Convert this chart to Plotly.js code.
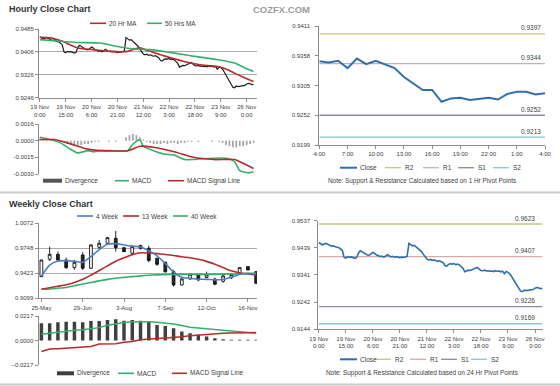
<!DOCTYPE html>
<html><head><meta charset="utf-8">
<script src="https://cdn.plot.ly/plotly-3.0.1.min.js"></script>
<style>html,body{margin:0;padding:0;background:#fff;overflow:hidden}#chart{width:560px;height:386px}</style>
</head><body><div id="chart"></div>
<script>
// ---------------- DATA ----------------
const hourTickLabels = ["19 Nov<br>0:00","19 Nov<br>15:00","20 Nov<br>6:00","20 Nov<br>21:00","21 Nov<br>12:00","22 Nov<br>3:00","22 Nov<br>18:00","23 Nov<br>9:00","26 Nov<br>0:00"];
const hourlyClose = [
0.9458,0.9452,0.9449,0.9453,0.9455,0.9452,0.9448,0.9445,0.9446,0.9443,
0.9441,0.9440,0.9436,0.9430,0.9405,0.9402,0.9407,0.9405,0.9406,0.9403,
0.9401,0.9404,0.9420,0.9428,0.9424,0.9421,0.9418,0.9413,0.9412,0.9418,
0.9422,0.9419,0.9413,0.9411,0.9407,0.9409,0.9405,0.9408,0.9414,0.9410,
0.9406,0.9408,0.9405,0.9407,0.9404,0.9403,0.9405,0.9404,0.9406,0.9408,
0.9455,0.9450,0.9446,0.9448,0.9443,0.9437,0.9431,0.9425,0.9415,0.9405,
0.9398,0.9395,0.9397,0.9393,0.9395,0.9392,0.9390,0.9392,0.9389,0.9385,
0.9375,0.9373,0.9379,0.9381,0.9380,0.9382,0.9378,0.9380,0.9377,0.9372,
0.9365,0.9352,0.9355,0.9358,0.9357,0.9360,0.9362,0.9365,0.9368,0.9362,
0.9357,0.9356,0.9358,0.9355,0.9356,0.9354,0.9355,0.9353,0.9356,0.9354,
0.9355,0.9352,0.9354,0.9345,0.9353,0.9350,0.9345,0.9335,0.9325,0.9315,
0.9305,0.9295,0.9282,0.9280,0.9286,0.9284,0.9285,0.9287,0.9286,0.9288,
0.9293,0.9295,0.9294,0.9291,0.9292];
const ma20Hour = [0,6,13,22,31,41,51,55,58,64,70,78,86,93,103,109,113,118,124];
const ma20 = [0.9456,0.9454,0.9442,0.9419,0.9413,0.9407,0.9407,0.9415,0.9419,0.9407,0.9395,0.9381,0.9368,0.9360,0.9354,0.9343,0.9331,0.9317,0.9302];
const ma50Hour = [0,12,22,35,45,55,64,74,84,93,103,113,119,124];
const ma50 = [0.9448,0.9442,0.9438,0.9436,0.9424,0.9415,0.9413,0.9405,0.9395,0.9387,0.9378,0.9366,0.9349,0.9337];
const macdHour = [0,6,12,16,22,28,31,35,41,51,54,58,60,66,72,78,84,89,97,109,113,116,121,124];
const macdH = [0.0003,0.0001,-0.0002,-0.0006,-0.0011,-0.0009,-0.0010,-0.0009,-0.0009,-0.0009,-0.0003,0.0001,-0.0005,-0.0009,-0.0012,-0.0013,-0.0017,-0.0017,-0.0016,-0.0016,-0.0019,-0.0027,-0.0029,-0.0028];
const signalHour = [0,8,16,26,35,51,58,66,78,89,101,113,116,124];
const signalH = [0.0001,0.0001,-0.0002,-0.0007,-0.0009,-0.0009,-0.0005,-0.0006,-0.0010,-0.0015,-0.0017,-0.0017,-0.0019,-0.0025];
// divergence read every second hour
const divH = [0.0002,0.0002,0.0001,0.0001,0.0000,-0.0001,-0.0001,-0.0002,-0.0003,-0.0004,
-0.0005,-0.0004,-0.0004,-0.0003,-0.0003,-0.0002,-0.0001,-0.0001,0.0000,0.0000,
-0.0001,0.0000,-0.0001,0.0000,0.0000,0.0003,0.0005,0.0006,0.0005,0.0003,
0.0001,-0.0001,-0.0002,-0.0003,-0.0003,-0.0003,-0.0002,-0.0003,-0.0002,-0.0002,
-0.0003,-0.0002,-0.0002,-0.0001,-0.0001,0.0000,-0.0001,0.0000,0.0000,0.0000,
-0.0001,0.0000,-0.0001,-0.0002,-0.0004,-0.0005,-0.0006,-0.0006,-0.0005,-0.0005,
-0.0004,-0.0003,-0.0002];
const macdHTicks = [-0.0030,-0.0015,0.0000,0.0015];
const macdHTickText = ["-0.0030","-0.0015","0.0000","0.0016"];

// 1 Hr pivot chart
const pivotHourTicks = ["4:00","7:00","10:00","13:00","16:00","19:00","22:00","1:00","4:00"];
const pivotClose = [0.9348,0.9346,0.9349,0.9336,0.9353,0.9343,0.9349,0.9343,0.9336,0.9320,
0.9309,0.9297,0.9297,0.9276,0.9282,0.9283,0.9279,0.9281,0.9283,0.9280,
0.9290,0.9294,0.9294,0.9289,0.9291];
const pivotNames = ["R2","R1","S1","S2"];
const pivot1Levels = [0.9397,0.9344,0.9252,0.9213];
const pivot1Ticks = [0.9199,0.9252,0.9305,0.9358,0.9411];

// 24 Hr pivot chart (line positions as drawn, label texts as printed)
const pivot24Levels = [0.9525,0.9407,0.9226,0.9164];
const pivot24Labels = ["0.9623","0.9407","0.9226","0.9169"];
const pivot24Ticks = [0.9144,0.9242,0.9341,0.9439,0.9537];

// Weekly
const weekTickLabels = ["25-May","29-Jun","3-Aug","7-Sep","12-Oct","16-Nov"];
const wOpen  = [0.9380,0.9605,0.9670,0.9596,0.9497,0.9661,0.9489,0.9761,0.9813,0.9877,0.9756,0.9683,0.9782,0.9748,0.9618,0.9566,0.9445,0.9272,0.9350,0.9402,0.9367,0.9350,0.9320,0.9365,0.9423,0.9510,0.9445];
const wHigh  = [0.9600,0.9769,0.9704,0.9627,0.9596,0.9696,0.9800,0.9856,0.9890,0.9973,0.9760,0.9791,0.9795,0.9782,0.9625,0.9575,0.9467,0.9360,0.9420,0.9415,0.9445,0.9365,0.9400,0.9420,0.9500,0.9515,0.9450];
const wLow   = [0.9375,0.9583,0.9575,0.9480,0.9470,0.9467,0.9480,0.9739,0.9791,0.9704,0.9700,0.9661,0.9730,0.9566,0.9520,0.9430,0.9250,0.9265,0.9340,0.9320,0.9360,0.9270,0.9300,0.9350,0.9420,0.9460,0.9285];
const wClose = [0.9596,0.9670,0.9596,0.9497,0.9566,0.9489,0.9791,0.9813,0.9886,0.9756,0.9704,0.9769,0.9748,0.9590,0.9540,0.9445,0.9272,0.9350,0.9410,0.9337,0.9402,0.9281,0.9390,0.9405,0.9497,0.9467,0.9294];
const ma4w  = [0.9389,0.9530,0.9582,0.9588,0.9580,0.9565,0.9640,0.9730,0.9800,0.9808,0.9790,0.9775,0.9765,0.9715,0.9650,0.9550,0.9440,0.9372,0.9358,0.9346,0.9345,0.9338,0.9346,0.9372,0.9410,0.9423,0.9415];
const ma13w = [0.9216,0.9235,0.9255,0.9275,0.9305,0.9345,0.9400,0.9460,0.9520,0.9580,0.9625,0.9665,0.9690,0.9686,0.9678,0.9668,0.9655,0.9638,0.9625,0.9605,0.9578,0.9540,0.9498,0.9455,0.9430,0.9415,0.9402];
const ma40w = [0.9216,0.9220,0.9230,0.9240,0.9262,0.9285,0.9305,0.9325,0.9345,0.9360,0.9370,0.9380,0.9390,0.9398,0.9403,0.9406,0.9408,0.9410,0.9410,0.9410,0.9410,0.9410,0.9412,0.9414,0.9417,0.9420,0.9423];
const weekTicks = [0.9099,0.9423,0.9748,1.0072];
const divW = [0.0152,0.0152,0.0161,0.0167,0.0167,0.0161,0.0173,0.0173,0.0182,0.0188,0.0176,0.0182,0.0176,0.0167,0.0138,0.0129,0.0108,0.0079,0.0064,0.0050,0.0035,0.0021,0.0012,0.0006,0.0006,0.0006,0.0006];
const macdW = [0.0056,0.0065,0.0075,0.0082,0.0090,0.0095,0.0104,0.0114,0.0135,0.0150,0.0160,0.0166,0.0167,0.0166,0.0162,0.0156,0.0146,0.0133,0.0118,0.0110,0.0103,0.0095,0.0086,0.0080,0.0073,0.0068,0.0064];
const signalW = [-0.0097,-0.0076,-0.0072,-0.0067,-0.0063,-0.0059,-0.0053,-0.0032,-0.0031,-0.0029,-0.0015,-0.0009,0.0006,0.0009,0.0018,0.0022,0.0026,0.0033,0.0041,0.0048,0.0056,0.0060,0.0064,0.0067,0.0070,0.0070,0.0070];
const macdWTicks = [-0.0217,0.0000,0.0217];

// ---------------- STYLE / LAYOUT ----------------
const W = 560, H = 386;
const px = x => x / W, py = y => 1 - y / H;
const FONT = 'Liberation Sans, Arial, sans-serif';
const TXT = '#404040';
const C = {close:'#1c1c1c', red:'#b92b2b', green:'#35b06b', blue:'#4a7fbf', pclose:'#2f6fab',
  pivots:['#c9c47e','#d9a9a7','#8f88a6','#86c5db'], div:'#a3a3a3', divW:'#3f3f3f', axis:'#8c8c8c', grid:'#a9a9a9'};
const idx = a => a.map((_, i) => i);

const traces = [];
const L = (x, y, color, w, xa, ya, extra) => Object.assign({type:'scatter', mode:'lines', x, y, xaxis:xa, yaxis:ya,
  line:{color, width:w}, hoverinfo:'skip', showlegend:false}, extra || {});
const S = (color, w, sm) => ({line:{color, width:w, shape:'spline', smoothing:sm}});

// top-left hourly
traces.push(L(idx(hourlyClose), hourlyClose, C.close, 1.2, 'x', 'y'));
traces.push(L(ma20Hour, ma20, C.red, 1.6, 'x', 'y', S(C.red, 1.6, 0.6)));
traces.push(L(ma50Hour, ma50, C.green, 1.6, 'x', 'y', S(C.green, 1.6, 0.6)));
// top-left MACD
traces.push({type:'bar', x:divH.map((_, i) => i * 2), y:divH, xaxis:'x2', yaxis:'y2', width:1.0,
  marker:{color:C.div, line:{width:0}}, hoverinfo:'skip', showlegend:false});
traces.push(L(macdHour, macdH, C.green, 1.6, 'x2', 'y2', S(C.green, 1.6, 0.5)));
traces.push(L(signalHour, signalH, C.red, 1.6, 'x2', 'y2', S(C.red, 1.6, 0.5)));
// top-right 1hr pivots
pivot1Levels.forEach((v, i) => traces.push(L([0, pivotClose.length - 1], [v, v], C.pivots[i], 1.3, 'x3', 'y3')));
traces.push(L(idx(pivotClose), pivotClose, C.pclose, 2, 'x3', 'y3'));
// weekly candles + MAs
traces.push({type:'candlestick', x:idx(wOpen), open:wOpen, high:wHigh, low:wLow, close:wClose,
  xaxis:'x4', yaxis:'y4', whiskerwidth:0, hoverinfo:'skip', showlegend:false,
  increasing:{line:{color:'#111', width:0.9}, fillcolor:'#ffffff'},
  decreasing:{line:{color:'#111', width:0.9}, fillcolor:'#262626'}});
traces.push(L(idx(ma40w), ma40w, C.green, 1.6, 'x4', 'y4', S(C.green, 1.6, 0.6)));
traces.push(L(idx(ma13w), ma13w, C.red, 1.6, 'x4', 'y4', S(C.red, 1.6, 0.6)));
traces.push(L(idx(ma4w), ma4w, C.blue, 1.6, 'x4', 'y4', S(C.blue, 1.6, 0.6)));
// weekly MACD
traces.push({type:'bar', x:idx(divW), y:divW, xaxis:'x5', yaxis:'y5', width:0.42,
  marker:{color:C.divW, line:{width:0}}, hoverinfo:'skip', showlegend:false});
traces.push(L(idx(macdW), macdW, C.green, 1.5, 'x5', 'y5'));
traces.push(L(idx(signalW), signalW, C.red, 1.5, 'x5', 'y5'));
// bottom-right 24hr pivots
pivot24Levels.forEach((v, i) => traces.push(L([0, hourlyClose.length - 1], [v, v], C.pivots[i], 1.3, 'x6', 'y6')));
traces.push(L(idx(hourlyClose), hourlyClose, C.pclose, 1.6, 'x6', 'y6'));

const tf = {size:6, color:TXT, family:FONT};
const base = {showline:true, linecolor:C.axis, linewidth:1, ticks:'outside', ticklen:3, tickcolor:C.axis,
  tickfont:tf, showgrid:false, zeroline:false, fixedrange:true};
const X = (d, r, anchor, extra) => Object.assign({}, base, {domain:[px(d[0]), px(d[1])], range:r, anchor}, extra || {});
const Y = (d, r, anchor, extra) => Object.assign({}, base, {domain:[py(d[1]), py(d[0])], range:r, anchor}, extra || {});
const hideX = {showline:false, ticks:'', showticklabels:false};

const hourTickVals = hourTickLabels.map((_, i) => i * 15);
const layout = {
  width:W, height:H, margin:{l:0, r:0, t:0, b:0}, autosize:false,
  paper_bgcolor:'#ffffff', plot_bgcolor:'rgba(0,0,0,0)', showlegend:false,
  boxgap:0.52, font:{family:FONT, color:TXT},
  xaxis: X([39,257], [-0.5,126], 'y', {tickvals:hourTickVals, ticktext:hourTickLabels}),
  yaxis: Y([29,97.5], [0.9246,0.9485], 'x', {tickvals:[0.9246,0.9326,0.9406,0.9485], tickformat:'.4f', showgrid:true, gridcolor:C.grid, gridwidth:1}),
  xaxis2: X([39,257], [-0.5,126], 'y2', hideX),
  yaxis2: Y([124,174], [-0.0030,0.0015], 'x2', {tickvals:macdHTicks, ticktext:macdHTickText}),
  xaxis3: X([319.3,545], [0,24], 'y3', {tickvals:pivotHourTicks.map((_, i) => i * 3), ticktext:pivotHourTicks}),
  yaxis3: Y([26,145], [0.9199,0.9411], 'x3', {tickvals:pivot1Ticks, tickformat:'.4f', ticklabelstandoff:4}),
  xaxis4: X([38.5,257], [-0.35,26.1], 'y4', {tickvals:weekTickLabels.map((_, i) => i * 5), ticktext:weekTickLabels, rangeslider:{visible:false}}),
  yaxis4: Y([223.3,298.3], [0.9099,1.0072], 'x4', {tickvals:weekTicks, tickformat:'.4f', showgrid:true, gridcolor:C.grid, gridwidth:1}),
  xaxis5: X([38.5,257], [-0.35,26.1], 'y5', hideX),
  yaxis5: Y([316,365], [-0.0217,0.0217], 'x5', {tickvals:macdWTicks, tickformat:'.4f'}),
  xaxis6: X([318.3,543.3], [-0.3,124.6], 'y6', {tickvals:hourTickVals, ticktext:hourTickLabels}),
  yaxis6: Y([220.7,329.3], [0.9144,0.9537], 'x6', {tickvals:pivot24Ticks, tickformat:'.4f', ticklabelstandoff:3}),
  shapes:[], annotations:[]
};

const shapes = layout.shapes, ann = layout.annotations;
const hline = (x0, x1, y, color, w) => shapes.push({type:'line', xref:'paper', yref:'paper', x0:px(x0), x1:px(x1), y0:py(y), y1:py(y), line:{color, width:w}});
const text = (x, y, t, o) => ann.push(Object.assign({xref:'paper', yref:'paper', x:px(x), y:py(y), text:t, showarrow:false,
  xanchor:'left', yanchor:'middle', font:{size:6.5, color:TXT, family:FONT}}, o || {}));

// separators
hline(0, 560, 192.5, '#cbcbcb', 2);
hline(0, 560, 384.5, '#cbcbcb', 2);
// titles
text(7, 9.5, '<b>Hourly Close Chart</b>', {font:{size:9, color:'#333', family:FONT}});
text(7, 203.5, '<b>Weekly Close Chart</b>', {font:{size:9, color:'#333', family:FONT}});
text(281, 10, '<b>COZFX.COM</b>', {xanchor:'center', font:{size:9.5, color:'#9c9c9c', family:FONT}});

// legends
hline(90, 106, 23.3, C.red, 1.6); text(107, 23.3, '20 Hr MA');
hline(147, 162, 23.3, C.green, 1.6); text(163, 23.3, '50 Hrs MA');
hline(43, 62, 180.7, '#555', 4); text(63, 180.7, 'Divergence');
hline(115, 129, 180.7, C.green, 1.6); text(130, 180.7, 'MACD');
hline(168, 184, 180.7, C.red, 1.6); text(185, 180.7, 'MACD Signal Line');
hline(77, 93, 216, C.blue, 1.6); text(94, 216, '4 Week');
hline(123, 139, 216, C.red, 1.6); text(140, 216, '13 Week');
hline(173, 188, 216, C.green, 1.6); text(189, 216, '40 Week');
hline(57, 74, 373.3, C.divW, 4); text(75, 373.3, 'Divergence');
hline(118, 134, 373.3, C.green, 1.6); text(135, 373.3, 'MACD');
hline(172, 187, 373.3, C.red, 1.6); text(188, 373.3, 'MACD Signal Line');
// pivot legends
const pivLeg = (y, pos) => {
  hline(340, 357, y, C.pclose, 2); text(358, y, 'Close');
  pivotNames.forEach((n, i) => { hline(pos[i], pos[i] + 16, y, C.pivots[i], 1.3); text(pos[i] + 18, y, n); });
};
pivLeg(167.7, [385, 423, 458, 493]);
pivLeg(359.3, [375, 410, 441, 471]);
text(421.7, 180.7, 'Note: Support &amp; Resistance Calculated based on 1 Hr Pivot Points', {xanchor:'center', font:{size:6.4, color:TXT, family:FONT}});
text(421.7, 372.7, 'Note: Support &amp; Resistance Calculated based on 24 Hr Pivot Points', {xanchor:'center', font:{size:6.4, color:TXT, family:FONT}});

// pivot value labels
pivot1Levels.forEach(v => ann.push({xref:'x3', yref:'y3', x:pivotClose.length - 1, y:v, text:v.toFixed(4), showarrow:false,
  xanchor:'right', yanchor:'bottom', xshift:-2, yshift:0.5, font:{size:6.5, color:TXT, family:FONT}}));
pivot24Levels.forEach((v, i) => ann.push({xref:'x6', yref:'y6', x:hourlyClose.length - 1, y:v, text:pivot24Labels[i], showarrow:false,
  xanchor:'right', yanchor:'bottom', xshift:-5, yshift:0.5, font:{size:6.5, color:TXT, family:FONT}}));

Plotly.newPlot('chart', traces, layout, {staticPlot:true, displayModeBar:false});
</script>
</body></html>
